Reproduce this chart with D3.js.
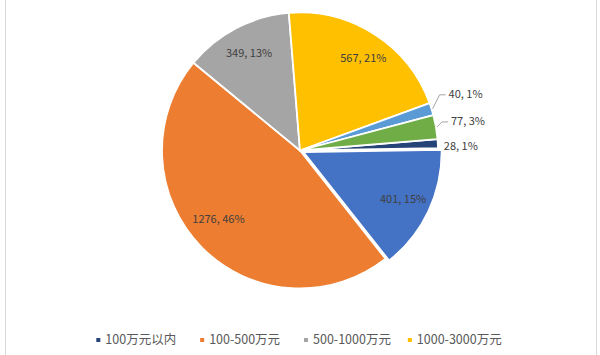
<!DOCTYPE html>
<html>
<head>
<meta charset="utf-8">
<script src="https://cdn.jsdelivr.net/npm/d3@7"></script>
<style>
  html, body { margin: 0; padding: 0; background: #ffffff; }
  #chart { width: 600px; height: 355px; overflow: hidden; }
</style>
</head>
<body>
<div id="chart"></div>
<script>
// legend order
const categories = ['100万元以内', '100-500万元', '500-1000万元', '1000-3000万元', '3000-5000万元', '5000万-1亿元', '1亿元以上'];
const values = [28, 1276, 349, 567, 40, 77, 401];
const percentLabels = ['1%', '46%', '13%', '21%', '1%', '3%', '15%'];
const colors = ['#264478', '#ED7D31', '#A5A5A5', '#FFC000', '#5B9BD5', '#70AD47', '#4472C4'];
// slices clockwise, starting from the first slice angle
const sliceOrder = [0, 6, 1, 2, 3, 4, 5];
const firstSliceAngle = 85.3;
// only the first legend row is inside the picture
const legendShown = 4;

const width = 600, height = 355;
const cx = 300, cy = 150.5, radius = 138;
const labelFont = '"Noto Sans CJK SC", "Noto Sans", sans-serif';

const svg = d3.select('#chart')
    .append('svg')
    .attr('width', width)
    .attr('height', height);

// chart frame (top and bottom are cropped off)
svg.append('rect')
    .attr('x', 5.5)
    .attr('y', -10)
    .attr('width', 591)
    .attr('height', height + 20)
    .attr('fill', 'none')
    .attr('stroke', '#d9d9d9')
    .attr('stroke-width', 1);

const data = sliceOrder.map(i => ({
    name: categories[i],
    value: values[i],
    pct: percentLabels[i],
    color: colors[i],
    idx: i
}));

const a0 = firstSliceAngle * Math.PI / 180;
const pie = d3.pie()
    .sort(null)
    .value(d => d.value)
    .startAngle(a0)
    .endAngle(a0 + 2 * Math.PI);

const arcs = pie(data);
const arc = d3.arc().innerRadius(0).outerRadius(radius);
const labelArc = d3.arc().innerRadius(110).outerRadius(110);

// exploded slice
const explode = { 6: 4 };

const g = svg.append('g').attr('transform', `translate(${cx}, ${cy})`);

function offset(d) {
    const e = explode[d.data.idx] || 0;
    const mid = (d.startAngle + d.endAngle) / 2;
    return [Math.sin(mid) * e, -Math.cos(mid) * e];
}

g.selectAll('.slice')
    .data(arcs)
    .enter()
    .append('path')
    .attr('class', 'slice')
    .attr('d', arc)
    .attr('transform', d => `translate(${offset(d)})`)
    .attr('fill', d => d.data.color)
    .attr('stroke', '#ffffff')
    .attr('stroke-width', 1.8)
    .attr('stroke-linejoin', 'round');

// inside labels for big slices (small nudges like Excel's best fit)
const nudge = { 1: [-3, -8], 3: [4, 0] };
const inside = arcs.filter(d => (d.endAngle - d.startAngle) > 0.3);
g.selectAll('.in-label')
    .data(inside)
    .enter()
    .append('text')
    .attr('class', 'in-label')
    .attr('transform', d => {
        const c = labelArc.centroid(d);
        const o = offset(d);
        const n = nudge[d.data.idx] || [0, 0];
        return `translate(${c[0] + o[0] + n[0]}, ${c[1] + o[1] + n[1]})`;
    })
    .attr('text-anchor', 'middle')
    .attr('dy', '0.35em')
    .style('font-family', labelFont)
    .style('font-size', '11px')
    .style('fill', '#404040')
    .text(d => `${d.data.value}, ${d.data.pct}`);

// outside labels for small slices: label offset from slice edge, leader or not
const outsideLayout = {
    4: { dx: 16, dy: -15, leader: true },
    5: { dx: 14, dy: -6, leader: true },
    0: { dx: 5, dy: 3, leader: false }
};
const outside = arcs.filter(d => outsideLayout[d.data.idx]);
const edgeArc = d3.arc().innerRadius(radius + 1).outerRadius(radius + 1);

outside.forEach(d => {
    const L = outsideLayout[d.data.idx];
    const p = edgeArc.centroid(d);
    const tx = p[0] + L.dx, ty = p[1] + L.dy;
    if (L.leader) {
        g.append('polyline')
            .attr('points', [[p[0], p[1]], [tx - 9, ty + 1], [tx - 3, ty + 1]].map(q => q.join(',')).join(' '))
            .attr('fill', 'none')
            .attr('stroke', '#a6a6a6')
            .attr('stroke-width', 1);
    }
    g.append('text')
        .attr('x', tx)
        .attr('y', ty)
        .attr('dy', '0.35em')
        .style('font-family', labelFont)
        .style('font-size', '11px')
        .style('fill', '#404040')
        .text(`${d.data.value}, ${d.data.pct}`);
});

// legend: grid of 4 columns
const legend = svg.append('g').attr('class', 'legend');
const legendFont = '12.5px';
const probe = legend.append('text')
    .style('font-family', labelFont)
    .style('font-size', legendFont);
let maxW = 0;
categories.forEach(c => {
    probe.text(c);
    maxW = Math.max(maxW, probe.node().getComputedTextLength());
});
probe.remove();

const cols = 4, markerGap = 7, colW = maxW + markerGap + 12;
const spanW = (cols - 1) * colW + markerGap + maxW;
const lx0 = cx - spanW / 2;
const ly0 = 340;

const items = legend.selectAll('.item')
    .data(categories.slice(0, legendShown))
    .enter()
    .append('g')
    .attr('class', 'item')
    .attr('transform', (d, i) => `translate(${lx0 + i * colW}, ${ly0})`);

items.append('rect')
    .attr('x', -2)
    .attr('y', -2)
    .attr('width', 4)
    .attr('height', 4)
    .attr('fill', (d, i) => colors[i]);

items.append('text')
    .attr('x', markerGap)
    .attr('dy', '0.35em')
    .style('font-family', labelFont)
    .style('font-size', legendFont)
    .style('fill', '#595959')
    .text(d => d);
</script>
</body>
</html>
